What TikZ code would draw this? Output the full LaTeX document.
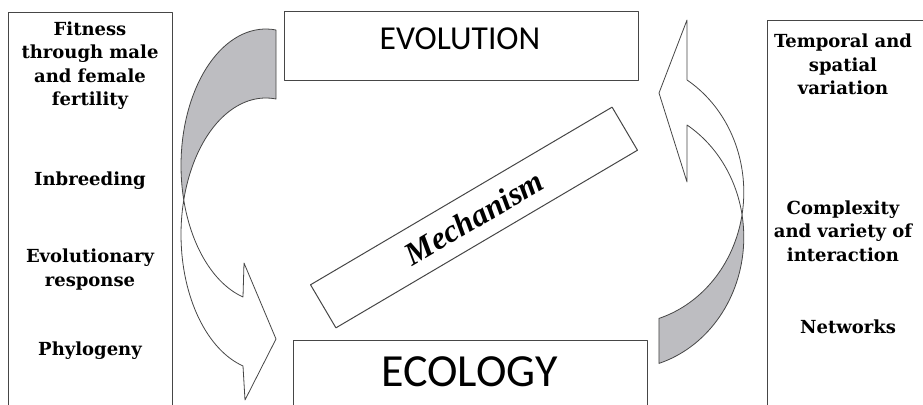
\documentclass[tikz,border=0pt]{standalone}
\usepackage{fontspec}
\setmainfont{DejaVu Serif}
\newfontfamily\boxfont{Carlito}
\newfontfamily\handfont{Liberation Serif}
\definecolor{shade}{RGB}{189,189,193}
\definecolor{edge}{RGB}{70,70,70}
\begin{document}
\begin{tikzpicture}[x=1pt, y=-1pt, line join=round,
		panel/.style={draw=edge, line width=1pt, inner sep=0pt},
		sidetext/.style={font=\fontsize{18}{23.5}\selectfont\bfseries, align=center},
		ribbon/.style={draw=edge, line width=0.8pt}]
	\useasboundingbox (0,0) rectangle (923,404);
	% side panels and the three boxes
	\node[panel, anchor=north west, minimum width=164pt, minimum height=420pt] (causes) at (8,12) {};
	\node[panel, anchor=north west, minimum width=180pt, minimum height=420pt] (context) at (767,20) {};
	\node[panel, minimum width=354pt, minimum height=68pt] (evolution) at (461,46) {};
	\node[font=\boxfont\fontsize{33.5}{33.5}\selectfont] (evolabel) at (460,38.5) {EVOLUTION};
	\node[panel, anchor=north west, minimum width=354pt, minimum height=90pt] (ecology) at (293,340) {};
	\node[font=\boxfont\fontsize{46}{46}\selectfont] (ecolabel) at (469.5,372) {ECOLOGY};
	\node[panel, rotate=30.5, minimum width=350pt, minimum height=50pt, font=\handfont\fontsize{32}{32}\selectfont\bfseries\itshape] (mechanism) at (474,217.5) {Mechanism};
	% left ribbon arrow
	\pgfmathsetmacro{\lx}{265.8}
	\pgfmathsetmacro{\lrx}{84.8}
	\pgfmathsetmacro{\lry}{136.5}
	\pgfmathsetmacro{\lya}{165.5}
	\pgfmathsetmacro{\lyb}{234.5}
	\coordinate (lwingt) at (244,263);
	\coordinate (ltip) at (276,339);
	\coordinate (lwingb) at (245,400);
	\filldraw[ribbon, fill=shade] plot[domain=-83.09:-194.64, samples=40] ({\lx+\lrx*cos(\x)}, {\lya+\lry*sin(\x)})
		-- plot[domain=194.64:276.91, samples=40] ({\lx+\lrx*cos(\x)}, {\lyb+\lry*sin(\x)}) -- cycle;
	\filldraw[ribbon, fill=white] plot[domain=194.64:105.6, samples=40] ({\lx+\lrx*cos(\x)}, {\lyb+\lry*sin(\x)})
		-- (lwingb) -- (ltip) -- (lwingt)
		-- plot[domain=105.6:165.36, samples=40] ({\lx+\lrx*cos(\x)}, {\lya+\lry*sin(\x)}) -- cycle;
	% right ribbon arrow
	\pgfmathsetmacro{\rx}{623.8}
	\pgfmathsetmacro{\rrx}{120}
	\pgfmathsetmacro{\rry}{132}
	\pgfmathsetmacro{\rya}{237.2}
	\pgfmathsetmacro{\ryb}{192.2}
	\coordinate (rwingt) at (687,20);
	\coordinate (rtip) at (659,93);
	\coordinate (rwingb) at (687,182);
	\filldraw[ribbon, fill=shade] plot[domain=72.96:-9.81, samples=40] ({\rx+\rrx*cos(\x)}, {\rya+\rry*sin(\x)})
		-- plot[domain=9.81:72.96, samples=40] ({\rx+\rrx*cos(\x)}, {\ryb+\rry*sin(\x)}) -- cycle;
	\filldraw[ribbon, fill=white] plot[domain=9.81:-58.2, samples=40] ({\rx+\rrx*cos(\x)}, {\ryb+\rry*sin(\x)})
		-- (rwingt) -- (rtip) -- (rwingb)
		-- plot[domain=-58.2:-9.81, samples=40] ({\rx+\rrx*cos(\x)}, {\rya+\rry*sin(\x)}) -- cycle;
	% texts in the side panels
	\foreach \nm/\xx/\yy/\txt in {fitness/90/65.7/{Fitness\\through male\\and female\\fertility},
			inbreeding/90/180.5/Inbreeding, response/90/269.5/{Evolutionary\\response}, phylogeny/90/350.5/Phylogeny,
			variation/843/64.5/{Temporal and\\spatial\\variation}, interaction/843/231/{Complexity\\and variety of\\interaction},
			networks/848/326.5/Networks}
		\node[sidetext] (\nm) at (\xx,\yy) {\txt};
\end{tikzpicture}
\end{document}
